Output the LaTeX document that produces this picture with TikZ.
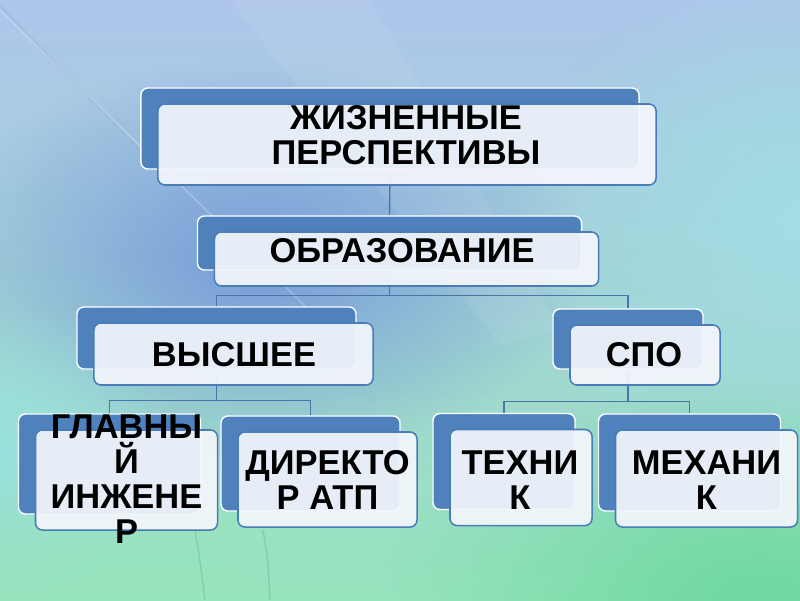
\documentclass[tikz,border=0pt]{standalone}
\usepackage{fontspec}
\setmainfont{Liberation Sans}
\usetikzlibrary{positioning, fadings}

\definecolor{bgtop}{HTML}{ADC5EB}
\definecolor{bgmid}{HTML}{7E9EE0}
\definecolor{bgbot}{HTML}{98E4BE}
\definecolor{bgblue}{HTML}{6C8CDA}
\definecolor{bgteal}{HTML}{A2DEE4}
\definecolor{bgcyan}{HTML}{9AE2E2}
\definecolor{bggreen}{HTML}{6ED8A0}
\definecolor{boxblue}{HTML}{4F81BD}
\definecolor{boxedge}{HTML}{4A7CB8}
\definecolor{linkblue}{HTML}{4A74AA}
\definecolor{paper}{HTML}{F3F6FB}

\tikzfading[name=glowfade, inner color=transparent!0, outer color=transparent!100]
\pgfdeclarelayer{bg}
\pgfdeclarelayer{links}
\pgfsetlayers{bg,links,main}

\tikzset{
    backbox/.style={rectangle, rounded corners=5pt, fill=boxblue, draw=white, line width=1pt},
    frontbox/.style={rectangle, rounded corners=5pt, fill=paper, fill opacity=0.93, draw=boxedge, line width=1.1pt},
    boxtext/.style={align=center, font=\bfseries\fontsize{24.5}{24.9}\selectfont, inner sep=0pt},
    link/.style={draw=linkblue, line width=1pt}
}

\begin{document}
\begin{tikzpicture}[x=0.025cm, y=-0.025cm]
    \useasboundingbox (0,0) rectangle (800,600);

    % background
    \begin{pgfonlayer}{bg}
        \shade[top color=bgtop, middle color=bgmid, bottom color=bgbot] (0,0) rectangle (800,600);
        \fill[bgblue, path fading=glowfade, opacity=0.8] (260,260) ellipse [x radius=330, y radius=200];
        \fill[bgteal, path fading=glowfade] (800,220) ellipse [x radius=280, y radius=260];
        \fill[bgcyan, path fading=glowfade, opacity=0.9] (0,450) ellipse [x radius=180, y radius=150];
        \fill[bggreen, path fading=glowfade] (760,600) ellipse [x radius=380, y radius=220];
        \fill[bgbot, path fading=glowfade, opacity=0.8] (150,600) ellipse [x radius=300, y radius=140];
        \fill[white, opacity=0.07] (230,0) -- (370,0) -- (560,330) -- (500,345) -- cycle;
        \draw[white, opacity=0.25, line width=1pt] (0,10) -- (330,330);
        \draw[boxblue!60, opacity=0.4, line width=1.5pt] (0,6) -- (150,160);
        \draw[bggreen!80!black, opacity=0.35, line width=1pt] (195,530) .. controls (200,560) .. (205,600);
        \draw[bggreen!80!black, opacity=0.35, line width=1pt] (263,530) .. controls (268,560) .. (270,600);
    \end{pgfonlayer}

    % boxes: name / front centre / width / height
    \foreach \n/\cx/\cy/\w/\hh in {
        life/407/144.5/12.45/2.025,
        edu/406.5/259/9.6/1.35,
        high/233.5/354/6.975/1.55,
        spo/645/355/3.75/1.5,
        chief/126.5/480/4.55/2.5,
        head/327.5/479.5/4.475/2.375,
        tech/521/477.5/3.55/2.4,
        mech/706.5/478.5/4.55/2.425
    } {
        \node[backbox, minimum width=\w cm, minimum height=\hh cm] (\n back) at (\cx-17,\cy-16) {};
        \node[frontbox, minimum width=\w cm, minimum height=\hh cm] (\n) at (\cx,\cy) {};
    }

    % labels
    \node[boxtext] (lifetext) at (406,135.5) {ЖИЗНЕННЫЕ\\ПЕРСПЕКТИВЫ};
    \node[boxtext] (edutext) at (402,251) {ОБРАЗОВАНИЕ};
    \node[boxtext] (hightext) at (234,355) {ВЫСШЕЕ};
    \node[boxtext] (spotext) at (644,355) {СПО};
    \node[boxtext] (chieftext) at (126.5,479) {ГЛАВНЫ\\Й\\ИНЖЕНЕ\\Р};
    \node[boxtext] (headtext) at (327.5,480) {ДИРЕКТО\\Р АТП};
    \node[boxtext] (techtext) at (520,480) {ТЕХНИ\\К};
    \node[boxtext] (mechtext) at (706.5,480) {МЕХАНИ\\К};

    % connectors
    \begin{pgfonlayer}{links}
        \draw[link] (lifeback.south) -- (eduback.north);
        \draw[link] (eduback.south) -- ++(0,25) -| (highback.north);
        \draw[link] (eduback.south) -- ++(0,25) -| (spoback.north);
        \draw[link] (highback.south) -- ++(0,31) -| (chiefback.north);
        \draw[link] (highback.south) -- ++(0,31) -| (headback.north);
        \draw[link] (spoback.south) -- ++(0,32) -| (techback.north);
        \draw[link] (spoback.south) -- ++(0,32) -| (mechback.north);
    \end{pgfonlayer}
\end{tikzpicture}
\end{document}
